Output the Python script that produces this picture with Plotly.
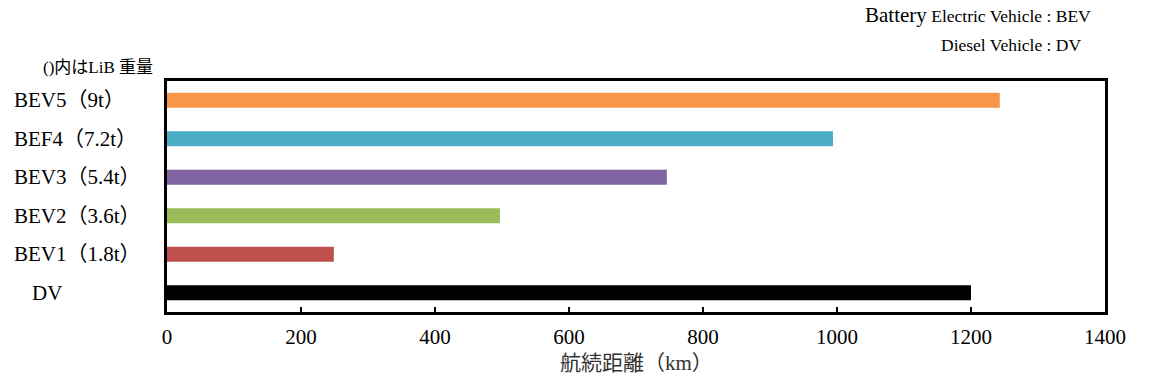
import plotly.graph_objects as go

categories = ["BEV5（9t）", "BEF4（7.2t）", "BEV3（5.4t）", "BEV2（3.6t）", "BEV1（1.8t）", "DV"]
ranges_km = [1243, 994, 746, 497, 249, 1200]
bar_colors = ["#F79646", "#4BACC6", "#8064A2", "#9BBB59", "#C0504D", "#000000"]
x_ticks = [0, 200, 400, 600, 800, 1000, 1200, 1400]

SERIF = "Liberation Serif, DejaVu Serif, Noto Sans CJK JP, serif"

fig = go.Figure()
fig.add_trace(go.Bar(
    x=ranges_km, y=categories, orientation="h",
    marker=dict(color=bar_colors, line=dict(width=0)),
    width=0.39, showlegend=False, hoverinfo="x+y",
))

fig.update_layout(
    width=1160, height=378,
    margin=dict(l=167, r=55, t=81, b=66),
    paper_bgcolor="white", plot_bgcolor="white",
    font=dict(family=SERIF, color="black"),
    xaxis=dict(
        range=[0, 1400], tickvals=x_ticks, ticktext=[str(v) for v in x_ticks],
        ticks="inside", ticklen=5, tickwidth=2, tickcolor="black",
        showline=True, linecolor="black", linewidth=3, mirror=True,
        showgrid=False, zeroline=False,
        tickfont=dict(family=SERIF, size=21, color="black"),
        ticklabelstandoff=4,
    ),
    yaxis=dict(
        categoryorder="array", categoryarray=categories[::-1],
        range=[-0.5, 5.5],
        showticklabels=False, ticks="",
        showline=True, linecolor="black", linewidth=3, mirror=True,
        showgrid=False, zeroline=False,
    ),
)

# category labels (left aligned, as in the reference)
for cat in categories:
    fig.add_annotation(
        x=0, xref="paper", xshift=-155 + (18 if cat == "DV" else 0),
        y=cat, yref="y", text=cat, showarrow=False,
        xanchor="left", yanchor="middle",
        font=dict(family=SERIF, size=21, color="black"),
    )

# note above labels
fig.add_annotation(
    x=0, xref="paper", xshift=-126, y=1, yref="paper", yshift=14,
    text="()内はLiB 重量", showarrow=False, xanchor="left", yanchor="middle",
    font=dict(family=SERIF, size=17, color="black"),
)

# abbreviations, top right
fig.add_annotation(
    x=1093, xref="paper", y=1, yref="paper", showarrow=False,
    text="<span style='font-size:21px'>Battery</span> Electric Vehicle : BEV",
    xanchor="right", yanchor="middle",
    font=dict(family=SERIF, size=17.5, color="black"),
)
fig.add_annotation(
    x=1083, xref="paper", y=1, yref="paper", showarrow=False,
    text="Diesel Vehicle : DV", xanchor="right", yanchor="middle",
    font=dict(family=SERIF, size=17.5, color="black"),
)

# axis title
fig.add_annotation(
    x=0.5, xref="paper", y=0, yref="paper", yshift=-51,
    text="航続距離（km）", showarrow=False, xanchor="center", yanchor="middle",
    font=dict(family=SERIF, size=21, color="#333333"),
)

# convert pixel placements of the top-right notes to paper coords
pw = 1160 - 167 - 55
ph = 378 - 81 - 66
for ann, ypx in zip(fig.layout.annotations[-3:-1], [15, 45]):
    ann.x = (ann.x - 167) / pw
    ann.y = (312 - ypx) / ph

fig.write_html("out.html")
